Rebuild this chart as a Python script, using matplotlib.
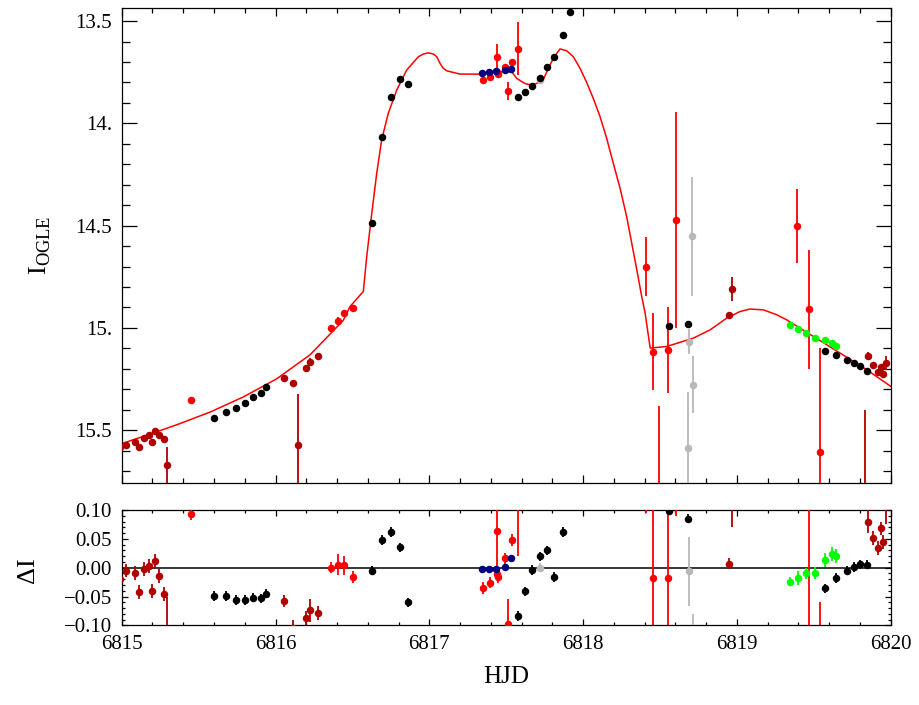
import numpy as np
import matplotlib
matplotlib.use("Agg")
import matplotlib.pyplot as plt
from matplotlib.ticker import MultipleLocator, FixedLocator, FuncFormatter

plt.rcParams['font.family'] = ['Liberation Serif', 'DejaVu Serif']
plt.rcParams['mathtext.fontset'] = 'custom'
plt.rcParams['mathtext.rm'] = 'Liberation Serif'

# model light curve
model_t = [6815.00, 6815.14, 6815.358, 6815.574, 6815.79, 6816.008, 6816.224, 6816.44,
           6816.484, 6816.571, 6816.593, 6816.626, 6816.658, 6816.69, 6816.733, 6816.788,
           6816.853, 6816.929, 6816.961, 6816.994, 6817.026, 6817.048, 6817.07, 6817.091,
           6817.113, 6817.156, 6817.20, 6817.33, 6817.46, 6817.536, 6817.568, 6817.61,
           6817.633, 6817.676, 6817.74, 6817.774, 6817.806, 6817.828, 6817.85, 6817.893,
           6817.936, 6817.98, 6818.023, 6818.066, 6818.11, 6818.153, 6818.196, 6818.24,
           6818.283, 6818.316, 6818.349, 6818.381, 6818.403, 6818.436, 6818.544, 6818.717,
           6818.825, 6818.934, 6819.02, 6819.085, 6819.172, 6819.259, 6819.324, 6819.497,
           6819.67, 6819.844, 6820.006]
model_mag = [15.566, 15.531, 15.474, 15.412, 15.338, 15.249, 15.132, 14.964,
             14.896, 14.822, 14.651, 14.439, 14.244, 14.081, 13.951, 13.837,
             13.739, 13.674, 13.661, 13.655, 13.661, 13.674, 13.707, 13.731,
             13.743, 13.751, 13.759, 13.759, 13.748, 13.748, 13.780, 13.800,
             13.808, 13.813, 13.788, 13.731, 13.682, 13.658, 13.636, 13.645,
             13.674, 13.731, 13.800, 13.878, 13.967, 14.073, 14.195, 14.317,
             14.456, 14.586, 14.716, 14.847, 14.928, 15.099, 15.091, 15.050,
             15.010, 14.952, 14.920, 14.908, 14.912, 14.936, 14.961, 15.042,
             15.123, 15.205, 15.289]

# dark red data set
dr_t = [6814.99, 6815.028, 6815.085, 6815.112, 6815.143, 6815.178, 6815.20, 6815.218,
        6815.243, 6815.275, 6815.295, 6816.057, 6816.112, 6816.144, 6816.20, 6816.222,
        6816.274, 6818.947, 6818.968, 6819.85, 6819.885, 6819.917, 6819.937, 6819.95,
        6819.971, 6819.83]
dr_mag = [15.583, 15.571, 15.560, 15.585, 15.541, 15.524, 15.560, 15.503,
          15.522, 15.545, 15.672, 15.245, 15.272, 15.575, 15.194, 15.166,
          15.140, 14.938, 14.811, 15.137, 15.184, 15.216, 15.192, 15.224,
          15.172, 16.05]
dr_err = [0.012, 0.012, 0.012, 0.012, 0.012, 0.012, 0.012, 0.012,
          0.012, 0.012, 0.09, 0.01, 0.015, 0.25, 0.012, 0.02,
          0.012, 0.01, 0.06, 0.02, 0.012, 0.012, 0.012, 0.012,
          0.035, 0.65]
dr_res = [-0.02, -0.005, -0.009, -0.042, -0.003, 0.003, -0.040, 0.011,
          -0.015, -0.046, -0.14, -0.058, -0.105, -0.40, -0.087, -0.074,
          -0.079, 0.007, 0.13, 0.080, 0.052, 0.034, 0.068, 0.044,
          0.11, -0.85]

# black data set
bk_t = [6815.60, 6815.676, 6815.743, 6815.80, 6815.856, 6815.904, 6815.938, 6816.626,
        6816.694, 6816.753, 6816.807, 6816.86, 6817.575, 6817.62, 6817.668, 6817.72,
        6817.765, 6817.81, 6817.87, 6817.913, 6818.56, 6818.68, 6819.575, 6819.644,
        6819.716, 6819.76, 6819.80, 6819.846]
bk_mag = [15.441, 15.412, 15.391, 15.368, 15.338, 15.319, 15.291, 14.485,
          14.068, 13.870, 13.785, 13.806, 13.871, 13.848, 13.816, 13.777,
          13.726, 13.676, 13.570, 13.457, 14.991, 14.979, 15.111, 15.133,
          15.156, 15.174, 15.187, 15.211]
bk_err = [0.008] * 28
bk_res = [-0.049, -0.049, -0.056, -0.056, -0.052, -0.053, -0.045, -0.005,
          0.048, 0.062, 0.035, -0.060, -0.084, -0.041, -0.004, 0.020,
          0.030, -0.016, 0.062, 0.18, 0.099, 0.085, -0.036, -0.018,
          -0.005, 0.001, 0.006, 0.005]

# red data set
rd_t = [6815.449, 6816.359, 6816.404, 6816.447, 6816.502, 6817.351, 6817.395, 6817.438,
        6817.447, 6817.443, 6817.49, 6817.536, 6817.514, 6817.575, 6818.409, 6818.455,
        6818.494, 6818.552, 6818.603, 6819.39, 6819.467, 6819.538]
rd_mag = [15.353, 15.003, 14.964, 14.928, 14.905, 13.788, 13.775, 13.748,
          13.760, 13.677, 13.723, 13.702, 13.842, 13.635, 14.700, 15.116,
          15.90, 15.107, 14.472, 14.503, 14.910, 15.609]
rd_err = [0.01, 0.01, 0.018, 0.017, 0.01, 0.01, 0.01, 0.01,
          0.01, 0.065, 0.01, 0.01, 0.043, 0.13, 0.146, 0.19,
          0.52, 0.21, 0.53, 0.18, 0.29, 0.51]
rd_res = [0.093, 0.000, 0.005, 0.004, -0.016, -0.035, -0.026, -0.011,
          -0.017, 0.064, 0.016, 0.048, -0.098, 0.15, 0.24, -0.018,
          -0.80, -0.018, 0.62, 0.46, 0.12, -0.57]

# navy data set
nv_t = [6817.34, 6817.388, 6817.434, 6817.49, 6817.533]
nv_mag = [13.755, 13.751, 13.744, 13.739, 13.734]
nv_err = [0.005] * 5
nv_res = [-0.002, -0.003, -0.003, 0.001, 0.016]

# green data set
gn_t = [6819.343, 6819.40, 6819.451, 6819.506, 6819.571, 6819.618, 6819.644]
gn_mag = [14.987, 15.005, 15.023, 15.049, 15.060, 15.075, 15.091]
gn_err = [0.008, 0.012, 0.01, 0.01, 0.012, 0.012, 0.012]
gn_res = [-0.024, -0.018, -0.010, -0.009, 0.013, 0.024, 0.020]

# gray data set
gy_t = [6817.718, 6818.708, 6818.689, 6818.715, 6818.683]
gy_mag = [13.79, 14.552, 15.067, 15.277, 15.586]
gy_err = [0.008, 0.29, 0.06, 0.14, 0.27]
gy_res = [0.0, 0.50, -0.006, -0.22, -0.53]

datasets = [
    (gy_t, gy_mag, gy_err, gy_res, '#b8b8b8'),
    (dr_t, dr_mag, dr_err, dr_res, '#b00000'),
    (bk_t, bk_mag, bk_err, bk_res, 'black'),
    (rd_t, rd_mag, rd_err, rd_res, '#ff0000'),
    (nv_t, nv_mag, nv_err, nv_res, '#000080'),
    (gn_t, gn_mag, gn_err, gn_res, '#00ff00'),
]

fig = plt.figure(figsize=(9.2, 7.05), dpi=100)
ax1 = fig.add_axes([0.1323, 0.3145, 0.8359, 0.6741])
ax2 = fig.add_axes([0.1323, 0.1130, 0.8359, 0.1636])

ax1.plot(model_t, model_mag, color='#ff0000', lw=1.1, zorder=2)
for t, m, e, r, c in datasets:
    ax1.errorbar(t, m, yerr=e, fmt='o', ms=4.4, color=c, ecolor=c,
                 elinewidth=1.3, capsize=0, zorder=3)
    ax2.errorbar(t, r, yerr=e, fmt='o', ms=4.4, color=c, ecolor=c,
                 elinewidth=1.3, capsize=0, zorder=3)
ax2.axhline(0, color='black', lw=1.1, zorder=2)

ax1.set_xlim(6815, 6820)
ax1.set_ylim(15.76, 13.436)
ax2.set_xlim(6815, 6820)
ax2.set_ylim(-0.1, 0.1)

top_ticks = [13.5, 14.0, 14.5, 15.0, 15.5]
top_labels = ['13.5', '14.', '14.5', '15.', '15.5']
ax1.yaxis.set_major_locator(FixedLocator(top_ticks))
ax1.set_yticklabels(top_labels)
ax1.yaxis.set_minor_locator(MultipleLocator(0.1))
for ax in (ax1, ax2):
    ax.xaxis.set_major_locator(MultipleLocator(1))
    ax.xaxis.set_minor_locator(MultipleLocator(0.2))
    for s in ax.spines.values():
        s.set_linewidth(0.9)
ax2.yaxis.set_major_locator(MultipleLocator(0.05))
ax2.yaxis.set_minor_locator(MultipleLocator(0.01))
ax2.yaxis.set_major_formatter(FuncFormatter(lambda v, p: f'{v:.2f}'.replace('-', '\u2212')))
ax2.xaxis.set_major_formatter(FuncFormatter(lambda v, p: f'{v:.0f}'))

ax1.tick_params(which='both', direction='in', top=True, right=True,
                labelbottom=False, labelsize=15, width=0.9, pad=7)
ax1.tick_params(axis='y', which='major', length=11)
ax1.tick_params(axis='y', which='minor', length=5.5)
ax1.tick_params(axis='x', which='major', length=6)
ax1.tick_params(axis='x', which='minor', length=3.8)
ax2.tick_params(which='both', direction='in', top=True, right=True,
                labelsize=15, width=0.9, pad=7)
ax2.tick_params(axis='both', which='major', length=4.5)
ax2.tick_params(axis='both', which='minor', length=2.4)

fig.text(0.044, 0.652, r'I$_{\mathrm{OGLE}}$', rotation=90, fontsize=19,
         ha='center', va='center')
fig.text(0.030, 0.192, '\u0394I', rotation=90, fontsize=19,
         ha='center', va='center')
fig.text(0.55, 0.040, 'HJD', fontsize=18, ha='center', va='center')

fig.savefig('out.png', dpi=100)
